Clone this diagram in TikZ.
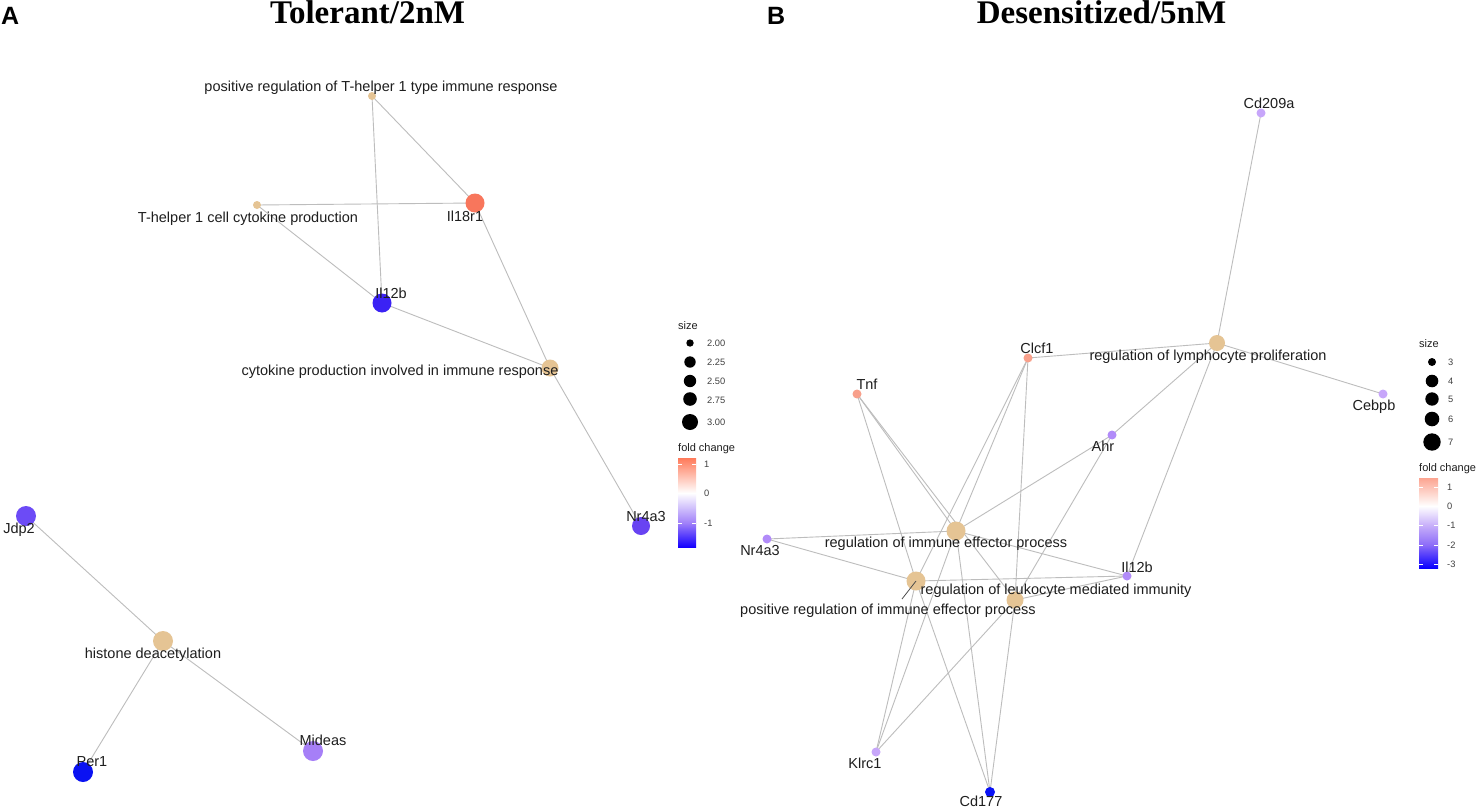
\documentclass[tikz,border=0pt]{standalone}
\usepackage{fontspec}
\setmainfont{Liberation Sans}
\newfontfamily\titlefont{Liberation Serif}
\usetikzlibrary{backgrounds}
\definecolor{tan}{HTML}{E5C494}
\definecolor{edgegray}{HTML}{BDBDBD}
\definecolor{txt}{HTML}{1E1E1E}
\definecolor{aIlr}{HTML}{F8765C}
\definecolor{aIlb}{HTML}{3B22F4}
\definecolor{aNr}{HTML}{6843F2}
\definecolor{aJdp}{HTML}{6C4BF6}
\definecolor{aPer}{HTML}{0A12F2}
\definecolor{aMid}{HTML}{A67FF7}
\definecolor{bSal}{HTML}{F8A08B}
\definecolor{bLil}{HTML}{C7A6FA}
\definecolor{bPur}{HTML}{B18BF9}
\definecolor{bBlu}{HTML}{0A12F5}
\begin{document}
\begin{tikzpicture}[x=1pt,y=-1pt,
  dot/.style={circle,inner sep=0pt,draw=none,fill=#1},
  lbl/.style={font=\fontsize{14.5}{17}\selectfont,text=txt,inner sep=0pt,anchor=base},
  leg/.style={font=\fontsize{11}{13}\selectfont,text=txt,inner sep=0pt,anchor=base west},
  tick/.style={font=\fontsize{9.3}{11}\selectfont,text=black!75,inner sep=0pt,anchor=base west},
  edge/.style={draw=edgegray,line width=0.9pt},
  ttl/.style={font=\titlefont\bfseries\fontsize{33}{38}\selectfont,inner sep=0pt,anchor=base},
  pnl/.style={font=\bfseries\fontsize{25}{30}\selectfont,inner sep=0pt,anchor=base west}]
\useasboundingbox (0,0) rectangle (1477,808);

% titles
\node[pnl] (pA) at (1,25) {A};
\node[pnl] (pB) at (767,25) {B};
\node[ttl] (tA) at (367.5,24) {Tolerant/2nM};
\node[ttl] (tB) at (1101.5,24) {Desensitized/5nM};

% ---------- Panel A nodes ----------
\node[dot=tan,minimum size=8pt]  (pth) at (372,96) {};
\node[dot=tan,minimum size=8pt]  (thc) at (257,205) {};
\node[dot=aIlr,minimum size=19pt] (ilr) at (475,203) {};
\node[dot=aIlb,minimum size=19pt] (ilb) at (382,303) {};
\node[dot=tan,minimum size=17pt] (cyt) at (550,368) {};
\node[dot=aNr,minimum size=18pt] (anr) at (641,526) {};
\node[dot=aJdp,minimum size=20pt] (jdp) at (26,516) {};
\node[dot=tan,minimum size=20pt] (his) at (163,641) {};
\node[dot=aPer,minimum size=20pt] (per) at (83,772) {};
\node[dot=aMid,minimum size=20pt] (mid) at (313,751) {};

% ---------- Panel B nodes ----------
\node[dot=bLil,minimum size=9pt]  (cd209) at (1261,113) {};
\node[dot=tan,minimum size=16pt]  (rlp)   at (1217,343) {};
\node[dot=bSal,minimum size=9pt]  (clcf)  at (1028,358) {};
\node[dot=bLil,minimum size=9pt]  (cebpb) at (1383,394) {};
\node[dot=bSal,minimum size=9pt]  (tnf)   at (857,394) {};
\node[dot=bPur,minimum size=9pt]  (ahr)   at (1112,435) {};
\node[dot=bPur,minimum size=9pt]  (bnr)   at (767,539) {};
\node[dot=tan,minimum size=19pt]  (riep)  at (956,531) {};
\node[dot=bPur,minimum size=9pt]  (bil)   at (1127,576) {};
\node[dot=tan,minimum size=19pt]  (priep) at (916,581) {};
\node[dot=tan,minimum size=17pt]  (rlmi)  at (1015,600) {};
\node[dot=bLil,minimum size=9pt]  (klrc)  at (876,752) {};
\node[dot=bBlu,minimum size=10pt] (cd177) at (990,792) {};
\coordinate (priepL) at (902,599);

% ---------- edges (behind) ----------
\begin{pgfonlayer}{background}
\fill[white] (0,0) rectangle (1477,808);
\draw[edge] (pth.center) -- (ilb.center);
\draw[edge] (pth.center) -- (ilr.center);
\draw[edge] (thc.center) -- (ilr.center);
\draw[edge] (thc.center) -- (ilb.center);
\draw[edge] (ilb.center) -- (cyt.center);
\draw[edge] (ilr.center) -- (cyt.center);
\draw[edge] (cyt.center) -- (anr.center);
\draw[edge] (jdp.center) -- (his.center);
\draw[edge] (his.center) -- (per.center);
\draw[edge] (his.center) -- (mid.center);
% B
\foreach \g in {cd209,clcf,cebpb,ahr,bil} \draw[edge] (rlp.center) -- (\g.center);
\foreach \g in {tnf,clcf,ahr,bnr,bil,klrc,cd177} \draw[edge] (riep.center) -- (\g.center);
\foreach \g in {tnf,clcf,bnr,bil,klrc,cd177} \draw[edge] (priep.center) -- (\g.center);
\foreach \g in {tnf,clcf,ahr,bil,klrc,cd177} \draw[edge] (rlmi.center) -- (\g.center);
\end{pgfonlayer}
\draw[black!70,line width=0.8pt] (priep.center) -- (priepL);

% ---------- labels A ----------
\node[lbl] (lpth) at (381,91) {positive regulation of T-helper 1 type immune response};
\node[lbl] (lthc) at (248,222) {T-helper 1 cell cytokine production};
\node[lbl] (lilr) at (465,221) {Il18r1};
\node[lbl] (lilb) at (391,298) {Il12b};
\node[lbl] (lcyt) at (400,375) {cytokine production involved in immune response};
\node[lbl] (lanr) at (646,521) {Nr4a3};
\node[lbl] (ljdp) at (19,533) {Jdp2};
\node[lbl] (lhis) at (153,658) {histone deacetylation};
\node[lbl] (lper) at (92,766) {Per1};
\node[lbl] (lmid) at (323,745) {Mideas};

% ---------- labels B ----------
\node[lbl] (lcd209) at (1269,108) {Cd209a};
\node[lbl] (lrlp)   at (1208,360) {regulation of lymphocyte proliferation};
\node[lbl] (lclcf)  at (1037,353) {Clcf1};
\node[lbl] (lcebpb) at (1374,410) {Cebpb};
\node[lbl] (ltnf)   at (867,389) {Tnf};
\node[lbl] (lahr)   at (1103,451) {Ahr};
\node[lbl] (lbnr)   at (760,555) {Nr4a3};
\node[lbl] (lriep)  at (946,547) {regulation of immune effector process};
\node[lbl] (lbil)   at (1137,572) {Il12b};
\node[lbl] (lrlmi)  at (1056,594) {regulation of leukocyte mediated immunity};
\node[lbl] (lpriep) at (888,614) {positive regulation of immune effector process};
\node[lbl] (lklrc)  at (865,768) {Klrc1};
\node[lbl] (lcd177) at (981,806.5) {Cd177};

% ---------- legend A ----------
\node[leg] (sA) at (678,329) {size};
\node[dot=black,minimum size=7.4pt] (sA1) at (690,343) {};
\node[dot=black,minimum size=11.4pt] (sA2) at (690,362) {};
\node[dot=black,minimum size=12.4pt] (sA3) at (690,381) {};
\node[dot=black,minimum size=13.6pt] (sA4) at (690,399) {};
\node[dot=black,minimum size=16pt] (sA5) at (690,422) {};
\node[tick] at (707,346.3) {2.00};
\node[tick] at (707,365.3) {2.25};
\node[tick] at (707,384.3) {2.50};
\node[tick] at (707,403.3) {2.75};
\node[tick] at (707,425.3) {3.00};
\node[leg] (fA) at (678,451) {fold change};
\shade[top color={rgb,255:red,255;green,122;blue,90},bottom color=white] (678,458) rectangle (696,493);
\shade[top color=white,bottom color={rgb,255:red,160;green,128;blue,249}] (678,493) rectangle (696,523);
\shade[top color={rgb,255:red,160;green,128;blue,249},bottom color={rgb,255:red,20;green,0;blue,255}] (678,523) rectangle (696,547);
\foreach \yy in {464,493,523} {
  \draw[white,line width=0.6pt] (678,\yy) -- ++(3.6,0);
  \draw[white,line width=0.6pt] (696,\yy) -- ++(-3.6,0);
}
\node[tick] at (704,467.3) {1};
\node[tick] at (704,496.3) {0};
\node[tick] at (704,526.3) {-1};

% ---------- legend B ----------
\node[leg] (sB) at (1419,347) {size};
\node[dot=black,minimum size=8pt] (sB1) at (1432,362) {};
\node[dot=black,minimum size=12.6pt] (sB2) at (1432,381) {};
\node[dot=black,minimum size=13.4pt] (sB3) at (1432,399) {};
\node[dot=black,minimum size=14.6pt] (sB4) at (1432,419) {};
\node[dot=black,minimum size=17.4pt] (sB5) at (1432,442) {};
\node[tick] at (1448,365.3) {3};
\node[tick] at (1448,384.3) {4};
\node[tick] at (1448,402.3) {5};
\node[tick] at (1448,422.3) {6};
\node[tick] at (1448,445.3) {7};
\node[leg] (fB) at (1419,471) {fold change};
\shade[top color={rgb,255:red,252;green,164;blue,144},bottom color=white] (1419,478) rectangle (1438,506);
\shade[top color=white,bottom color={rgb,255:red,200;green,176;blue,250}] (1419,506) rectangle (1438,525);
\shade[top color={rgb,255:red,200;green,176;blue,250},bottom color={rgb,255:red,140;green,108;blue,248}] (1419,525) rectangle (1438,545);
\shade[top color={rgb,255:red,140;green,108;blue,248},bottom color={rgb,255:red,10;green,0;blue,255}] (1419,545) rectangle (1438,568);
\foreach \yy in {487,506,525,545,564} {
  \draw[white,line width=0.6pt] (1419,\yy) -- ++(3.6,0);
  \draw[white,line width=0.6pt] (1438,\yy) -- ++(-3.6,0);
}
\node[tick] at (1447,490.3) {1};
\node[tick] at (1447,509.3) {0};
\node[tick] at (1447,528.3) {-1};
\node[tick] at (1447,548.3) {-2};
\node[tick] at (1447,567.3) {-3};
\end{tikzpicture}
\end{document}
